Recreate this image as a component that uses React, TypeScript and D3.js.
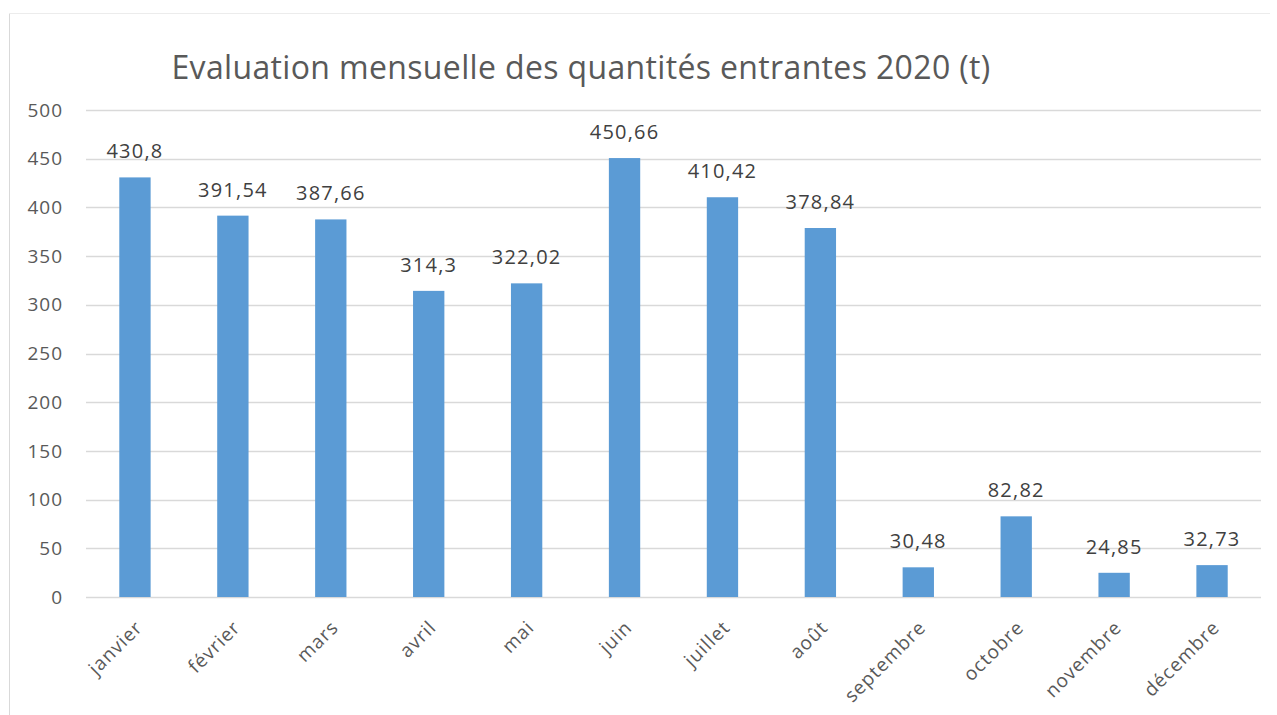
import React from "react";
import * as d3 from "d3";

const months = ["janvier", "février", "mars", "avril", "mai", "juin", "juillet", "août", "septembre", "octobre", "novembre", "décembre"];
const values = [430.8, 391.54, 387.66, 314.3, 322.02, 450.66, 410.42, 378.84, 30.48, 82.82, 24.85, 32.73];
const valueLabels = ["430,8", "391,54", "387,66", "314,3", "322,02", "450,66", "410,42", "378,84", "30,48", "82,82", "24,85", "32,73"];
const yTicks = [0, 50, 100, 150, 200, 250, 300, 350, 400, 450, 500];
const title = "Evaluation mensuelle des quantités entrantes 2020 (t)";

const W = 1277, H = 715;
const left = 86, right = 1261, top = 110, bottom = 597;
const font = "'Open Sans', 'Noto Sans', sans-serif";

export default function App() {
  const x = d3.scaleBand<string>().domain(months).range([left, right]).paddingInner(0.68).paddingOuter(0.34);
  const y = d3.scaleLinear().domain([0, 500]).range([bottom, top]);
  return (
    <svg width={W} height={H} style={{ position: "absolute", left: 0, top: 0, background: "#fff" }} fontFamily={font}>
      <rect x={0} y={0} width={W} height={H} fill="#fff" />
      <line x1={9.5} y1={13} x2={9.5} y2={H} stroke="#d9d9d9" strokeWidth={1} />
      <line x1={9} y1={13.5} x2={1270} y2={13.5} stroke="#ececec" strokeWidth={1} />
      <text x={581} y={79} textAnchor="middle" fontSize={32} letterSpacing={0.35} fill="#595959">{title}</text>
      {yTicks.map((t) => (
        <g key={t}>
          <line x1={left} x2={right} y1={Math.round(y(t)) + 0.5} y2={Math.round(y(t)) + 0.5} stroke="#d9d9d9" strokeWidth={1.5} />
          <text x={63} y={y(t)} dy="0.35em" textAnchor="end" fontSize={19} letterSpacing={1} fill="#595959">{t}</text>
        </g>
      ))}
      {months.map((m, i) => {
        const bx = x(m)!;
        const bw = x.bandwidth();
        const cx = bx + bw / 2;
        return (
          <g key={m}>
            <rect x={bx} y={y(values[i])} width={bw} height={y(0) - y(values[i])} fill="#5b9bd5" />
            <text x={cx} y={y(values[i]) - 19} textAnchor="middle" fontSize={20} letterSpacing={1.2} fill="#404040">{valueLabels[i]}</text>
            <text transform={`translate(${cx + 4},${bottom + 27}) rotate(-45)`} textAnchor="end" fontSize={19} letterSpacing={1} fill="#595959" dy="0.35em">{m}</text>
          </g>
        );
      })}
    </svg>
  );
}
